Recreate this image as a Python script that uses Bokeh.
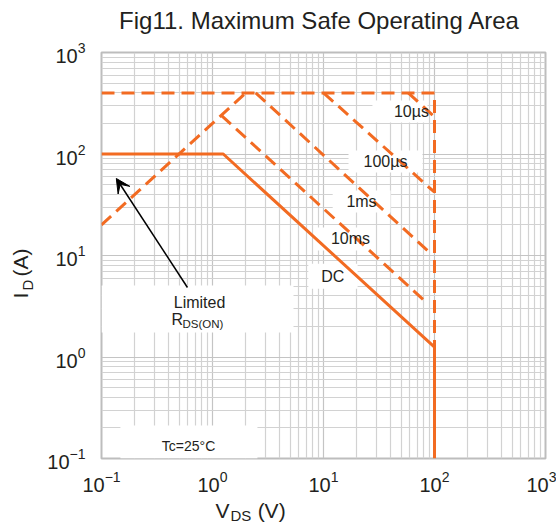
import math
from bokeh.plotting import figure
from bokeh.layouts import column, row
from bokeh.models import FixedTicker, Label, BoxAnnotation, Arrow, VeeHead
from bokeh.core.properties import value
from bokeh.embed import file_html
from bokeh.resources import INLINE

FONT = "Liberation Sans"
ORANGE = "#F26B22"
INK = "#231F20"
DASH = "13 7"

# --- Safe operating area boundaries: V_DS (V) against I_D (A) ---
dc_vds = [0.1, 1.25, 100, 100]
dc_id = [100, 100, 1.25, 0.1]

rds_vds = [0.1, 2.0]          # R_DS(on) limited region
rds_id = [20, 400]

limit_vds = [0.1, 100, 100]   # pulsed current ceiling and V_DS(max)
limit_id = [400, 400, 1.25]

pulse_names = ["10µs", "100µs", "1ms", "10ms"]
pulse_vds = [[58, 100], [10, 100], [2.45, 92], [1.2, 87]]
pulse_id = [[400, 232], [400, 42], [400, 10.5], [240, 3.35]]

decade_ticks = [0.1, 1, 10, 100, 1000]
minor_ticks = [k * d for d in [0.1, 1, 10, 100] for k in range(2, 10)]

TITLE = "Fig11. Maximum Safe Operating Area"


def bare(**kw):
    """A figure with no axes, grid or outline, used to hold text only."""
    f = figure(output_backend="svg", toolbar_location=None, title=None,
               x_axis_location=None, y_axis_location=None,
               min_border_left=0, min_border_right=0,
               min_border_top=0, min_border_bottom=0, **kw)
    f.outline_line_color = None
    f.background_fill_color = "white"
    f.border_fill_color = "white"
    f.xgrid.visible = False
    f.ygrid.visible = False
    return f


# ---------------- main chart ----------------
p = figure(width=516, height=460, x_axis_type="log", y_axis_type="log",
           x_range=(0.1, 1000), y_range=(0.1, 1000), title=None,
           output_backend="svg", toolbar_location=None,
           min_border_left=61, min_border_right=11,
           min_border_top=16, min_border_bottom=38)

p.background_fill_color = "white"
p.border_fill_color = "white"
p.outline_line_color = "#bdbdbd"
p.outline_line_width = 2

for ax in (p.xaxis, p.yaxis):
    ax.ticker = FixedTicker(ticks=decade_ticks, minor_ticks=minor_ticks)
    ax.major_label_text_font = FONT
    ax.major_label_text_font_size = "20px"
    ax.major_label_text_color = INK
    ax.axis_line_color = None
    ax.major_tick_line_color = None
    ax.minor_tick_line_color = None
p.xaxis.major_label_standoff = 6
p.yaxis.major_label_standoff = 10

for g in (p.xgrid, p.ygrid):
    g.ticker = FixedTicker(ticks=decade_ticks, minor_ticks=minor_ticks)
    g.grid_line_color = "#c4c4c4"
    g.grid_line_width = 1.2
    g.minor_grid_line_color = "#d2d2d2"
    g.minor_grid_line_width = 1.2

# white panels behind the annotations (they hide the grid only)
panels = [
    (27.6, 86.5, 204, 336),     # 10µs
    (16.8, 78, 65.7, 108),      # 100µs
    (12.1, 40.2, 26.5, 43.7),   # 1ms
    (8.3, 27.6, 11.2, 18.9),    # 10ms
    (7.3, 20.3, 4.7, 8.3),      # DC
    (0.1, 5.37, 1.74, 5.06),    # Limited R_DS(ON)
    (0.148, 2.54, 0.1, 0.211),  # Tc
]
for l, r, b, t in panels:
    p.add_layout(BoxAnnotation(left=l, right=r, bottom=b, top=t,
                               fill_color="white", fill_alpha=1.0,
                               line_color=None, level="underlay"))

# boundaries
p.line(limit_vds, limit_id, line_color=ORANGE, line_width=3, line_dash=DASH)
p.line(rds_vds, rds_id, line_color=ORANGE, line_width=3, line_dash=DASH)
for vds, ids in zip(pulse_vds, pulse_id):
    p.line(vds, ids, line_color=ORANGE, line_width=3, line_dash=DASH)
p.line(dc_vds, dc_id, line_color=ORANGE, line_width=3)

# curve labels
label_pos = [(62, 262), (36.2, 84.4), (22, 34), (17.5, 14.7), (12.1, 6.2)]
for name, (x, y) in zip(pulse_names + ["DC"], label_pos):
    p.add_layout(Label(x=x, y=y, text=name, text_align="center",
                       text_baseline="middle", text_font=FONT,
                       text_font_size="16px", text_color=INK))


def note(x, y, text, size, align="left"):
    p.add_layout(Label(x=x, y=y, text=text, text_align=align,
                       text_baseline="middle", text_font=FONT,
                       text_font_size=size, text_color=INK))


note(0.764, 3.44, "Limited", "16px", "center")
note(0.427, 2.32, "R", "16px")
note(0.537, 2.12, "DS(ON)", "11.5px")
note(0.608, 0.134, "Tc=25°C", "14px", "center")

p.add_layout(Arrow(end=VeeHead(size=14, fill_color="black", line_color="black"),
                   x_start=0.595, y_start=4.84, x_end=0.136, y_end=57.4,
                   line_color="black", line_width=1.5))

# ---------------- title strip ----------------
t = bare(width=556, height=36, x_range=(0, 1), y_range=(0, 1))
t.text(x=[0.574], y=[0.45], text=[TITLE], text_align="center",
       text_baseline="middle", text_font=value(FONT),
       text_font_size="24px", text_color=INK)

# ---------------- x-axis title: V_DS (V) ----------------
xl = bare(width=516, height=30, x_axis_type="log", x_range=p.x_range,
          y_range=(0, 1))
xl.min_border_left = 61
xl.min_border_right = 11
xl.text(x=[1.064, 2.55], y=[0.55, 0.55], text=["V", "(V)"],
        text_align="left", text_baseline="middle",
        text_font=value(FONT), text_font_size="21px", text_color=INK)
xl.text(x=[1.452], y=[0.37], text=["DS"], text_align="left",
        text_baseline="middle", text_font=value(FONT),
        text_font_size="15px", text_color=INK)

# ---------------- y-axis title: I_D (A) ----------------
yl = bare(width=40, height=490, y_axis_type="log", y_range=p.y_range,
          x_range=(0, 1))
yl.min_border_top = 16
yl.min_border_bottom = 68
yl.text(x=[0.5, 0.5], y=[3.77, 6.2], text=["I", "(A)"],
        angle=math.pi / 2, text_align="left", text_baseline="middle",
        text_font=value(FONT), text_font_size="21px", text_color=INK)
yl.text(x=[0.68], y=[4.52], text=["D"], angle=math.pi / 2,
        text_align="left", text_baseline="middle",
        text_font=value(FONT), text_font_size="15px", text_color=INK)

layout = column(t, row(yl, column(p, xl)))

open("out.html", "w").write(file_html(layout, INLINE))
